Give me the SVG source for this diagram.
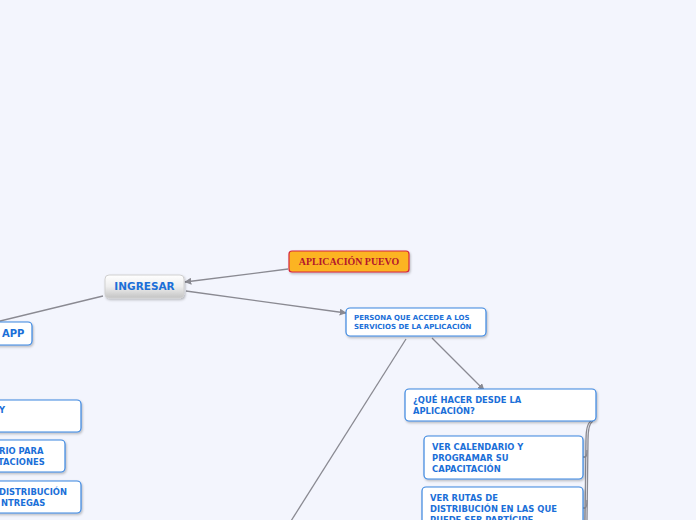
<svg xmlns="http://www.w3.org/2000/svg" width="696" height="520" viewBox="0 0 696 520">
<defs>
<linearGradient id="gI" x1="0" y1="0" x2="0" y2="1">
<stop offset="0" stop-color="#ffffff"/>
<stop offset="0.5" stop-color="#eeeeee"/>
<stop offset="1" stop-color="#c4c4c4"/>
</linearGradient>
<filter id="sh" x="-10%" y="-20%" width="120%" height="150%">
<feDropShadow dx="1" dy="1.5" stdDeviation="0.8" flood-color="#000" flood-opacity="0.25"/>
</filter>
<marker id="ar" viewBox="0 0 10 10" refX="9" refY="5" markerWidth="7" markerHeight="7" orient="auto" markerUnits="userSpaceOnUse">
<path d="M0,0 L10,5 L0,10 z" fill="#8a8a92"/>
</marker>
</defs>
<style>
.ln{fill:none;stroke:#8a8a92;stroke-width:1.3}
.bx{fill:#ffffff;stroke:#3a86e0;stroke-width:1.2;filter:url(#sh)}
.t{font-family:"DejaVu Sans",Verdana,sans-serif;font-weight:bold;fill:#1b6fd8}
</style>
<rect width="696" height="520" fill="#f3f5fd"/>
<g id="connectors">
<line class="ln" x1="288" y1="269" x2="185" y2="282" marker-end="url(#ar)"/>
<line class="ln" x1="186" y1="291" x2="346" y2="313" marker-end="url(#ar)"/>
<line class="ln" x1="103" y1="296" x2="0" y2="321"/>
<line class="ln" x1="432" y1="338" x2="484" y2="390" marker-end="url(#ar)"/>
<line class="ln" x1="406" y1="339" x2="291" y2="521"/>
<path class="ln" d="M593 421 Q588 424 588 440 L587 520"/>
<path class="ln" d="M591 421 Q586 424 586 440 L585 520"/>
<path class="ln" d="M583 457 L585 457 Q587 457 587 450"/>
<path class="ln" d="M583 508 L585 508 Q587 508 587 500"/>
</g>
<g id="aplicacion">
<rect x="289" y="251" width="120" height="21" rx="3" fill="#fcb421" stroke="#d6263c" stroke-width="1.2" filter="url(#sh)"/>
<text x="349" y="265" text-anchor="middle" font-family="'Liberation Serif','Times New Roman',serif" font-weight="bold" font-size="9.9" fill="#b3162c">APLICACIÓN PUEVO</text>
</g>
<g id="ingresar">
<rect x="105" y="275" width="79" height="23" rx="4" fill="url(#gI)" stroke="#d0d0d0" stroke-width="1" filter="url(#sh)"/>
<text class="t" x="144.5" y="290" text-anchor="middle" font-size="10.5">INGRESAR</text>
</g>
<g id="persona">
<rect class="bx" x="346" y="308" width="140" height="28" rx="4"/>
<text class="t" font-size="7"><tspan x="354" y="320">PERSONA QUE ACCEDE A LOS</tspan><tspan x="354" y="329">SERVICIOS DE LA APLICACIÓN</tspan></text>
</g>
<g id="app">
<rect class="bx" x="-10" y="322" width="42" height="23" rx="4"/>
<text class="t" x="2" y="337" font-size="10">APP</text>
</g>
<g id="left1">
<rect class="bx" x="-60" y="400" width="141" height="32" rx="4"/>
<text class="t" x="-1" y="413" font-size="8.4">Y</text>
</g>
<g id="left2">
<rect class="bx" x="-60" y="440" width="125" height="32" rx="4"/>
<text class="t" font-size="8.4"><tspan x="-1" y="454">RIO PARA</tspan><tspan x="-2" y="465">TACIONES</tspan></text>
</g>
<g id="left3">
<rect class="bx" x="-60" y="481" width="141" height="32" rx="4"/>
<text class="t" font-size="8.4"><tspan x="-1" y="495">DISTRIBUCIÓN</tspan><tspan x="1" y="506">NTREGAS</tspan></text>
</g>
<g id="quehacer">
<rect class="bx" x="405" y="389" width="191" height="32" rx="4"/>
<text class="t" font-size="8.4"><tspan x="413" y="403">¿QUÉ HACER DESDE LA</tspan><tspan x="413" y="414">APLICACIÓN?</tspan></text>
</g>
<g id="calendario">
<rect class="bx" x="424" y="436" width="159" height="43" rx="4"/>
<text class="t" font-size="8.4"><tspan x="432" y="450">VER CALENDARIO Y</tspan><tspan x="432" y="461">PROGRAMAR SU</tspan><tspan x="432" y="472">CAPACITACIÓN</tspan></text>
</g>
<g id="rutas">
<rect class="bx" x="422" y="487" width="161" height="45" rx="4"/>
<text class="t" font-size="8.4"><tspan x="430" y="501">VER RUTAS DE</tspan><tspan x="430" y="512">DISTRIBUCIÓN EN LAS QUE</tspan><tspan x="430" y="523">PUEDE SER PARTÍCIPE</tspan></text>
</g>
</svg>
